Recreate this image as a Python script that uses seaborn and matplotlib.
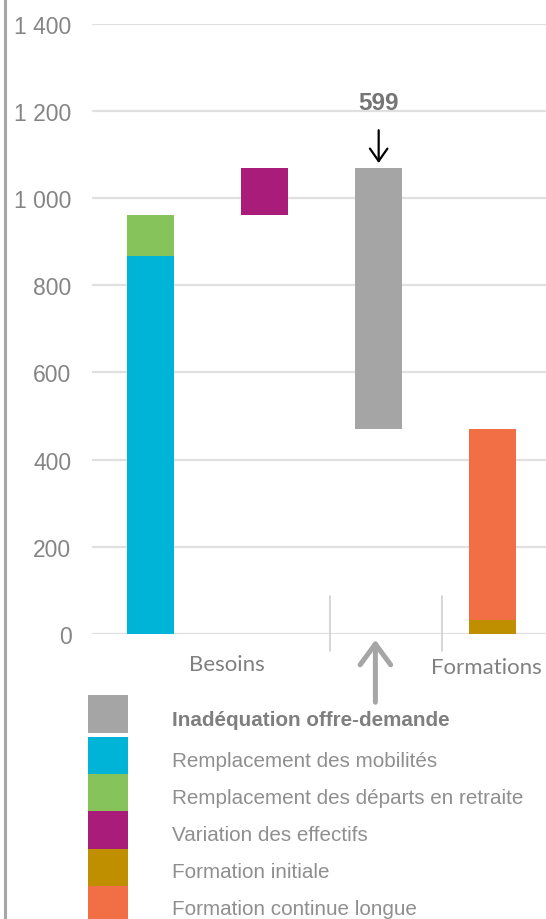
import matplotlib
matplotlib.use("Agg")
import matplotlib.pyplot as plt
from matplotlib.patches import Rectangle
from matplotlib.lines import Line2D
import seaborn as sns
import pandas as pd

# ── Data ──────────────────────────────────────────────────────────────────────
columns   = ["c1", "c2", "c3", "c4"]
seg_col   = ["c1", "c1", "c2", "c3", "c4", "c4"]
seg_name  = ["Remplacement des mobilités",
             "Remplacement des départs en retraite",
             "Variation des effectifs",
             "Inadéquation offre-demande",
             "Formation initiale",
             "Formation continue longue"]
seg_value = [866, 96, 108, 599, 33, 438]
seg_base  = [0, 866, 962, 471, 0, 33]

legend_order  = ["Inadéquation offre-demande",
                 "Remplacement des mobilités",
                 "Remplacement des départs en retraite",
                 "Variation des effectifs",
                 "Formation initiale",
                 "Formation continue longue"]
legend_colors = ["#a5a5a5", "#00b4d8", "#86c35a", "#a91c79", "#bf8f00", "#f26f45"]
gap_label     = "599"
group_labels  = ["Besoins", "Formations"]
y_ticks       = [0, 200, 400, 600, 800, 1000, 1200, 1400]

colors = dict(zip(legend_order, legend_colors))
df = pd.DataFrame({"col": seg_col, "serie": seg_name,
                   "value": seg_value, "base": seg_base})

# ── Figure ────────────────────────────────────────────────────────────────────
W, H = 546, 920
fig = plt.figure(figsize=(W / 100, H / 100), dpi=100)
sns.set_style("white")
plt.rcParams["font.family"] = ["Liberation Sans", "DejaVu Sans"]

def fx(px):
    return px / W

def fy(py):
    return 1 - py / H

ax = fig.add_axes([fx(92), fy(635), fx(546) - fx(92), fy(24.7) - fy(635)])

for _, row in df.iterrows():
    sns.barplot(x=[row["col"]], y=[row["value"]], order=columns,
                color=colors[row["serie"]], saturation=1, width=0.412,
                bottom=row["base"], errorbar=None, ax=ax, zorder=3,
                edgecolor="none", linewidth=0)

ax.set_xlim(-0.515, 3.468)
ax.set_ylim(0, 1400)
ax.set_yticks(y_ticks)
ax.set_yticklabels([f"{v:,}".replace(",", " ") for v in y_ticks],
                   fontsize=16.5, color="#858585")
ax.tick_params(axis="y", length=0, pad=14.8)
ax.set_xticks([])
ax.set_xlabel("")
ax.set_ylabel("")
ax.grid(axis="y", color="#e0e0e0", lw=1.6, zorder=0)
ax.set_axisbelow(True)
for s in ax.spines.values():
    s.set_visible(False)

# gap annotation above the grey bar
gap_top = df.loc[df["serie"] == "Inadéquation offre-demande", ["base", "value"]].sum(axis=1).iloc[0]
ax.annotate("", xy=(2, gap_top + 4), xytext=(2, gap_top + 92),
            arrowprops=dict(arrowstyle="->,head_width=0.35,head_length=0.5",
                            color="black", lw=1.6, mutation_scale=18))
ax.text(2, 1220, gap_label, ha="center", va="center", fontsize=17.5,
        fontweight="bold", color="#757575")

# ── Category axis (multi-level look) ─────────────────────────────────────────
for px in (330, 441.5):
    fig.add_artist(Line2D([fx(px), fx(px)], [fy(597), fy(652)],
                          color="#cfcfcf", lw=1.2))
fig.text(fx(226.7), fy(665), group_labels[0], ha="center", va="center",
         fontsize=16, color="#808080", family=["Lato", "DejaVu Sans"])
fig.text(fx(486.6), fy(668), group_labels[1], ha="center", va="center",
         fontsize=16, color="#808080", family=["Lato", "DejaVu Sans"])

# grey arrow pointing up at the mismatch
fig.add_artist(plt.Annotation("", xy=(fx(375.4), fy(638)), xytext=(fx(375.4), fy(706)),
                              xycoords="figure fraction",
                              arrowprops=dict(arrowstyle="->,head_width=0.55,head_length=0.75",
                                              color="#a6a6a6", lw=3.6,
                                              mutation_scale=20)))

# ── Legend ────────────────────────────────────────────────────────────────────
box_tops = [696, 738, 775, 812, 850, 887]
box_bots = [734, 775, 812, 850, 887, 925]
text_y   = [720, 762, 799, 836, 873, 910]
for i, (lab, col) in enumerate(zip(legend_order, legend_colors)):
    fig.add_artist(Rectangle((fx(88), fy(box_bots[i])), fx(128) - fx(88),
                             fy(box_tops[i]) - fy(box_bots[i]),
                             transform=fig.transFigure, color=col, lw=0))
    fig.text(fx(171.7), fy(text_y[i]), lab, ha="left", va="center",
             fontsize=14.9,
             fontweight="bold" if i == 0 else "normal",
             color="#7f7f7f" if i == 0 else "#8f8f8f")

# left frame line
fig.add_artist(Line2D([fx(4.5), fx(4.5)], [0, 1], color="#a6a6a6", lw=2.2))

fig.savefig("out.png", dpi=100)
plt.close(fig)
